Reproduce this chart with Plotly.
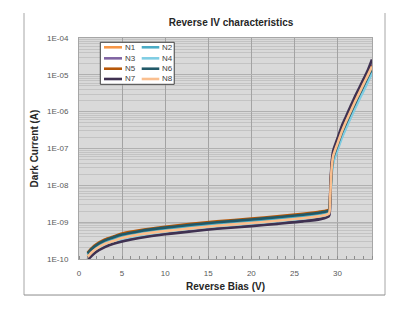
import plotly.graph_objects as go

bias_v = [1, 1.5, 2, 3, 4, 5, 7, 10, 13, 16, 20, 23, 26, 28, 29, 29.15, 29.3, 29.5,
          30, 30.5, 31, 31.5, 32, 32.5, 33, 33.5, 34]

n1 = [1.2e-10, 1.6e-10, 2.0e-10, 2.7e-10, 3.3e-10, 3.9e-10, 4.8e-10, 6.0e-10, 7.2e-10, 8.4e-10,
      1.0e-9, 1.15e-9, 1.35e-9, 1.55e-9, 1.8e-9, 5e-9, 2.5e-8, 6e-8, 1.3e-7, 2.8e-7, 5.2e-7,
      9.5e-7, 1.7e-6, 3.0e-6, 5.2e-6, 9e-6, 1.6e-5]
n2 = [1.32e-10, 1.76e-10, 2.2e-10, 3.0e-10, 3.6e-10, 4.3e-10, 5.3e-10, 6.6e-10, 7.9e-10, 9.2e-10,
      1.1e-9, 1.27e-9, 1.49e-9, 1.7e-9, 2.0e-9, 4.5e-9, 2.0e-8, 4.6e-8, 1.0e-7, 2.1e-7, 3.9e-7,
      7.1e-7, 1.28e-6, 2.25e-6, 3.9e-6, 6.8e-6, 1.2e-5]
n3 = [0.98e-10, 1.31e-10, 1.64e-10, 2.2e-10, 2.7e-10, 3.2e-10, 3.9e-10, 4.9e-10, 5.9e-10, 6.9e-10,
      8.2e-10, 9.4e-10, 1.11e-9, 1.27e-9, 1.5e-9, 5.5e-9, 3.0e-8, 7.2e-8, 1.56e-7, 3.4e-7, 6.2e-7,
      1.14e-6, 2.0e-6, 3.6e-6, 6.2e-6, 1.08e-5, 1.9e-5]
n4 = [1.08e-10, 1.44e-10, 1.8e-10, 2.43e-10, 3.0e-10, 3.5e-10, 4.3e-10, 5.4e-10, 6.5e-10, 7.6e-10,
      9.0e-10, 1.04e-9, 1.22e-9, 1.4e-9, 1.62e-9, 4.2e-9, 1.8e-8, 4.2e-8, 9.1e-8, 1.96e-7, 3.6e-7,
      6.7e-7, 1.19e-6, 2.1e-6, 3.6e-6, 6.3e-6, 1.12e-5]
n5 = [1.5e-10, 2.0e-10, 2.5e-10, 3.4e-10, 4.1e-10, 4.9e-10, 6.0e-10, 7.5e-10, 9.0e-10, 1.05e-9,
      1.25e-9, 1.44e-9, 1.69e-9, 1.94e-9, 2.2e-9, 5.5e-9, 2.8e-8, 6.6e-8, 1.43e-7, 3.1e-7, 5.7e-7,
      1.05e-6, 1.87e-6, 3.3e-6, 5.7e-6, 9.9e-6, 1.76e-5]
n6 = [1.42e-10, 1.89e-10, 2.36e-10, 3.2e-10, 3.9e-10, 4.6e-10, 5.7e-10, 7.1e-10, 8.5e-10, 9.9e-10,
      1.18e-9, 1.36e-9, 1.59e-9, 1.83e-9, 2.1e-9, 4.8e-9, 2.4e-8, 5.7e-8, 1.24e-7, 2.66e-7, 4.9e-7,
      9.0e-7, 1.6e-6, 2.85e-6, 4.9e-6, 8.6e-6, 1.52e-5]
n7 = [0.94e-10, 1.25e-10, 1.56e-10, 2.1e-10, 2.6e-10, 3.0e-10, 3.7e-10, 4.7e-10, 5.6e-10, 6.6e-10,
      7.8e-10, 9.0e-10, 1.05e-9, 1.21e-9, 1.45e-9, 6e-9, 3.6e-8, 8.7e-8, 1.9e-7, 4.1e-7, 7.5e-7,
      1.38e-6, 2.5e-6, 4.3e-6, 7.5e-6, 1.3e-5, 2.6e-5]
n8 = [1.14e-10, 1.52e-10, 1.9e-10, 2.57e-10, 3.1e-10, 3.7e-10, 4.6e-10, 5.7e-10, 6.8e-10, 8.0e-10,
      9.5e-10, 1.09e-9, 1.28e-9, 1.47e-9, 1.7e-9, 5e-9, 2.6e-8, 6.3e-8, 1.37e-7, 2.9e-7, 5.5e-7,
      1.0e-6, 1.8e-6, 3.15e-6, 5.5e-6, 9.5e-6, 1.68e-5]

series_names = ["N1", "N2", "N3", "N4", "N5", "N6", "N7", "N8"]
series_values = [n1, n2, n3, n4, n5, n6, n7, n8]
series_colors = ["#f79646", "#4bacc6", "#8064a2", "#7fcde3",
                 "#b65708", "#215968", "#3f3151", "#fabf8f"]

y_tickvals = [1e-10, 1e-9, 1e-8, 1e-7, 1e-6, 1e-5, 1e-4]
y_ticktext = ["1E-10", "1E-09", "1E-08", "1E-07", "1E-06", "1E-05", "1E-04"]
x_tickvals = [0, 5, 10, 15, 20, 25, 30]

fig = go.Figure()
for name, vals, col in zip(series_names, series_values, series_colors):
    fig.add_trace(go.Scatter(x=bias_v, y=vals, mode="lines", name=name,
                             line=dict(color=col, width=2.6, shape="spline", smoothing=0.6),
                             showlegend=False))

font_fam = "Liberation Sans, Arial, sans-serif"

# page body has an 8px default margin, so the figure is 8px smaller and shifted
fig.update_layout(
    width=407, height=303,
    margin=dict(l=71, r=43, t=30, b=52),
    paper_bgcolor="white",
    plot_bgcolor="#d9d9d9",
    font=dict(family=font_fam, color="#595959", size=8),
    title=dict(text="<b>Reverse IV characteristics</b>", x=0.548, xanchor="center",
               y=0.9505, yanchor="middle", font=dict(size=10, color="#262626", family=font_fam)),
    xaxis=dict(
        range=[0, 34], tickvals=x_tickvals, showgrid=True, gridcolor="#a3a3a3", gridwidth=1,
        zeroline=False, showline=True, linecolor="#a6a6a6", mirror=True,
        ticks="", ticklabelstandoff=6,
        minor=dict(dtick=1, ticks="inside", ticklen=3, tickcolor="#8c8c8c", showgrid=False),
        title=dict(text="<b>Reverse Bias (V)</b>", font=dict(size=10, color="#262626"), standoff=6),
    ),
    yaxis=dict(
        type="log", range=[-10, -4], tickvals=y_tickvals, ticktext=y_ticktext,
        showgrid=True, gridcolor="#b0b0b0", gridwidth=1, zeroline=False,
        showline=True, linecolor="#a6a6a6", mirror=True, ticks="", ticklabelstandoff=8,
        minor=dict(dtick="D1", showgrid=True, gridcolor="#c3c3c3", gridwidth=1, ticks=""),
        title=dict(text="<b>Dark Current (A)</b>", font=dict(size=10, color="#262626"), standoff=6),
    ),
)

# chart frame (left, right, bottom border)
frame_col = "#a6a6a6"
fig.add_shape(type="line", xref="paper", yref="paper", x0=-0.1877, x1=-0.1877, y0=-0.163, y1=1.113,
              line=dict(color=frame_col, width=1))
fig.add_shape(type="line", xref="paper", yref="paper", x0=1.0444, x1=1.0444, y0=-0.163, y1=1.113,
              line=dict(color=frame_col, width=1))
fig.add_shape(type="line", xref="paper", yref="paper", x0=-0.1877, x1=1.0444, y0=-0.163, y1=-0.163,
              line=dict(color="#8c8c8c", width=1))

# legend box (drawn manually, two columns)
fig.add_shape(type="rect", xref="x domain", yref="y domain", x0=0.0727, x1=0.325, y0=0.7905, y1=0.9805,
              fillcolor="white", line=dict(color="#404040", width=1), layer="above")
col_x = [(0.0853, 0.1468), (0.214, 0.274)]
row_y = [0.958, 0.908, 0.861, 0.8145]
for i, (name, col) in enumerate(zip(series_names, series_colors)):
    c = i % 2
    r = i // 2
    x0, x1 = col_x[c]
    yy = row_y[r]
    fig.add_shape(type="line", xref="x domain", yref="y domain", x0=x0, x1=x1, y0=yy, y1=yy,
                  line=dict(color=col, width=2.6), layer="above")
    fig.add_annotation(xref="x domain", yref="y domain", x=x1 + 0.002, y=yy, text=name,
                       showarrow=False, xanchor="left", yanchor="middle",
                       font=dict(size=8, color="#404040", family=font_fam))

fig.write_html("out.html")
